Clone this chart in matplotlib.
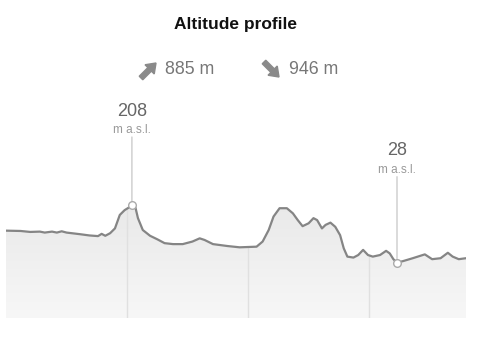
import matplotlib
matplotlib.use("Agg")
import matplotlib.pyplot as plt
import numpy as np
from matplotlib.patches import FancyArrow, Polygon
from matplotlib.transforms import IdentityTransform

plt.rcParams['font.family'] = ['Liberation Sans', 'DejaVu Sans']

# profile data: distance (km) and altitude (m a.s.l.)
dist_km = [0.0, 1.2, 2.0, 2.8, 3.2, 3.8, 4.2, 4.6, 5.0, 6.1, 6.9, 7.6, 7.9, 8.2,
           8.6, 9.0, 9.4, 9.8, 10.1, 10.4, 10.7, 10.9, 11.3, 11.9, 12.5, 13.1,
           13.8, 14.6, 15.4, 16.0, 16.4, 17.1, 18.3, 19.3, 20.7, 21.2, 21.7, 22.1,
           22.6, 23.2, 23.7, 24.1, 24.5, 25.0, 25.4, 25.7, 26.1, 26.4, 26.8, 27.2,
           27.6, 27.9, 28.2, 28.7, 29.1, 29.5, 29.9, 30.3, 30.9, 31.4, 31.7, 32.0,
           32.3, 32.8, 33.6, 34.6, 35.2, 35.9, 36.5, 36.9, 37.4, 38.0]
alt_m = [128, 127, 124, 125, 122, 125, 122, 126, 122, 117, 113, 111, 118, 112,
         120, 135, 177, 192, 199, 208, 199, 167, 130, 112, 101, 89,
         86, 86, 94, 104, 99, 86, 80, 76, 78, 94, 130, 172,
         198, 198, 182, 161, 142, 151, 167, 161, 135, 146, 153, 140,
         114, 73, 47, 44, 52, 68, 52, 47, 52, 65, 57, 39,
         28, 33, 42, 54, 39, 42, 59, 47, 39, 42]
grid_km = [10, 20, 30]
ascent = "885 m"
descent = "946 m"

x = np.array(dist_km)
y = np.array(alt_m)
ymin, ymax = -144.5, 535.6
H = 339

fig = plt.figure(figsize=(4.8, 3.39), dpi=100)
ax = fig.add_axes([6 / 480, 21 / 339, 460 / 480, 218 / 339])
ax.set_xlim(0, 38.0)
ax.set_ylim(ymin, ymax)
ax.axis('off')

# gradient fill under the profile
poly = Polygon(np.column_stack([np.r_[x[0], x, x[-1]], np.r_[ymin, y, ymin]]),
               closed=True, facecolor='none', edgecolor='none')
ax.add_patch(poly)
grad = np.linspace(0, 1, 256).reshape(-1, 1)
im = ax.imshow(grad, cmap=matplotlib.colors.LinearSegmentedColormap.from_list(
    'g', ['#f7f7f7', '#e9e9e9']), origin='lower', aspect='auto',
    extent=[0, 38.0, ymin, 210], zorder=1)
im.set_clip_path(poly)
for g in grid_km:
    ln = ax.axvline(g, color='#e0e0e0', lw=1, zorder=2)
    ln.set_clip_path(poly)

ax.plot(x, y, color='#858585', lw=1.6, zorder=3)

# max / min markers
imax = int(np.argmax(y))
imin = int(np.argmin(y))
for i, off in [(imax, 94), (imin, 112)]:
    ax.annotate('', xy=(x[i], y[i]), xytext=(0, off - 26), textcoords='offset pixels',
                arrowprops=dict(arrowstyle='-', color='#cccccc', lw=1,
                                shrinkA=0, shrinkB=0), zorder=3)
    ax.plot(x[i], y[i], 'o', ms=5.5, mfc='white', mec='#aaaaaa', mew=1, zorder=4)
    ax.annotate(str(alt_m[i]), xy=(x[i], y[i]), xytext=(0, off),
                textcoords='offset pixels', ha='center', va='center',
                fontsize=13, color='#666666', annotation_clip=False)
    ax.annotate('m a.s.l.', xy=(x[i], y[i]), xytext=(0, off - 19),
                textcoords='offset pixels', ha='center', va='center',
                fontsize=8.5, color='#999999', annotation_clip=False)

fig.text(236 / 480, 1 - 24 / 339, 'Altitude profile', ha='center', va='center',
         fontsize=12.5, fontweight='bold', color='#111111')

# ascent / descent arrows, drawn in pixel space
fig.add_artist(FancyArrow(141, H - 78, 15, 15, width=5, head_width=13,
                          head_length=9, length_includes_head=True,
                          color='#8a8a8a', transform=IdentityTransform()))
fig.text(165 / 480, 1 - 70 / 339, ascent, ha='left', va='center',
         fontsize=12.8, color='#777777')
fig.add_artist(FancyArrow(264, H - 62, 15, -15, width=5, head_width=13,
                          head_length=9, length_includes_head=True,
                          color='#8a8a8a', transform=IdentityTransform()))
fig.text(289 / 480, 1 - 70 / 339, descent, ha='left', va='center',
         fontsize=12.8, color='#777777')

fig.savefig('out.png', dpi=100, facecolor='white')
